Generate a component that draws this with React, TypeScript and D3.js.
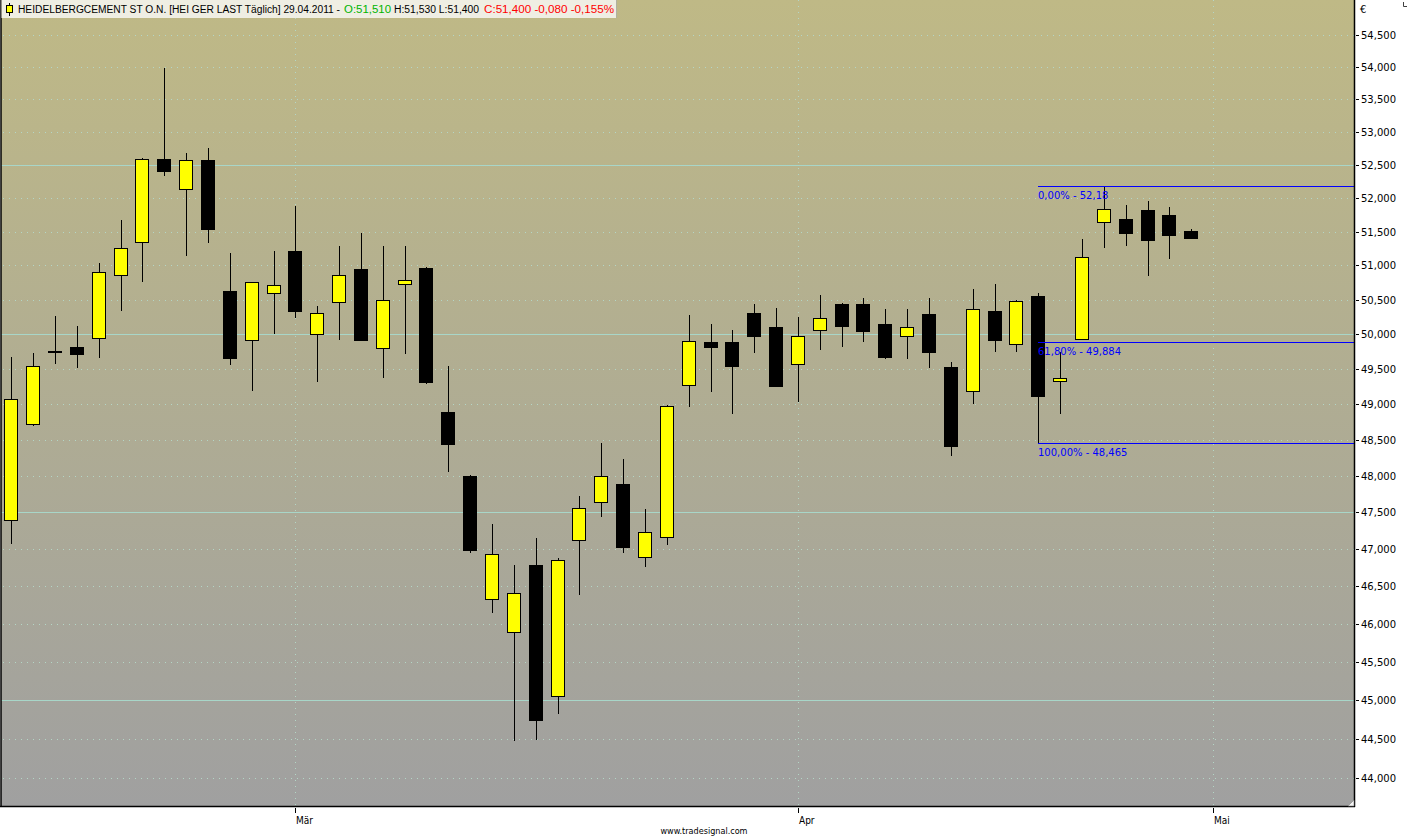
import React from 'react';
import * as d3 from 'd3';

// ---- Data ----
const dates = [
  '2011-02-10','2011-02-11','2011-02-14','2011-02-15','2011-02-16','2011-02-17','2011-02-18',
  '2011-02-21','2011-02-22','2011-02-23','2011-02-24','2011-02-25','2011-02-28',
  '2011-03-01','2011-03-02','2011-03-03','2011-03-04','2011-03-07','2011-03-08','2011-03-09',
  '2011-03-10','2011-03-11','2011-03-14','2011-03-15','2011-03-16','2011-03-17','2011-03-18',
  '2011-03-21','2011-03-22','2011-03-23','2011-03-24','2011-03-25','2011-03-28','2011-03-29',
  '2011-03-30','2011-03-31','2011-04-01','2011-04-04','2011-04-05','2011-04-06','2011-04-07',
  '2011-04-08','2011-04-11','2011-04-12','2011-04-13','2011-04-14','2011-04-15','2011-04-18',
  '2011-04-19','2011-04-20','2011-04-21','2011-04-26','2011-04-27','2011-04-28','2011-04-29',
];
const futureDates = ['2011-05-02'];

const opens = [
  47.40, 48.72, 49.76, 49.81, 49.94, 50.86, 51.34, 52.59, 52.13, 52.57, 50.63, 49.91, 50.59,
  51.21, 50.00, 50.46, 50.95, 49.80, 50.73, 50.96, 48.89, 48.00, 46.33, 45.89, 46.79, 45.06, 47.13,
  47.64, 47.89, 46.90, 47.17, 49.28, 49.89, 49.89, 50.31, 50.10, 49.58, 50.06, 50.44, 50.44, 50.15,
  49.98, 50.29, 49.53, 49.19, 50.33, 49.86, 50.56, 49.33, 49.93, 51.64, 51.68, 51.82, 51.75, 51.51,
];
const highs = [
  49.68, 49.73, 50.26, 50.12, 51.04, 51.67, 52.60, 53.98, 52.68, 52.75, 51.18, 50.76, 51.21,
  51.88, 50.41, 51.29, 51.48, 51.29, 51.29, 50.98, 49.55, 48.01, 47.34, 46.79, 47.15, 46.88, 47.73,
  48.46, 48.24, 47.55, 48.99, 50.28, 50.15, 50.06, 50.44, 50.38, 50.25, 50.57, 50.45, 50.52, 50.36,
  50.36, 50.52, 49.60, 50.66, 50.73, 50.50, 50.59, 49.75, 51.39, 52.18, 51.89, 51.95, 51.86, 51.53,
];
const lows = [
  47.07, 48.70, 49.58, 49.51, 49.66, 50.34, 50.75, 52.33, 51.14, 51.33, 49.56, 49.19, 50.01,
  50.24, 49.32, 49.92, 49.91, 49.38, 49.71, 49.29, 48.05, 46.95, 46.15, 44.48, 44.49, 44.82, 46.38,
  47.44, 46.95, 46.76, 47.06, 48.97, 49.17, 48.86, 49.73, 49.25, 49.04, 49.78, 49.82, 49.89, 49.64,
  49.64, 49.52, 48.28, 49.01, 49.75, 49.75, 48.465, 48.87, 49.92, 51.25, 51.29, 50.85, 51.10, 51.40,
];
const closes = [
  49.07, 49.54, 49.75, 49.71, 50.90, 51.25, 52.59, 52.41, 52.57, 51.53, 49.66, 50.75, 50.71,
  50.34, 50.30, 50.86, 49.92, 50.49, 50.78, 49.32, 48.45, 46.99, 46.93, 46.41, 44.74, 46.85, 47.56,
  48.00, 47.03, 47.24, 48.98, 49.90, 49.81, 49.55, 49.98, 49.26, 49.98, 50.24, 50.12, 50.05, 49.68,
  50.11, 49.75, 48.42, 50.37, 49.91, 50.48, 49.12, 49.38, 51.12, 51.83, 51.48, 51.38, 51.45, 51.40,
];

const priceTicks = [44, 44.5, 45, 45.5, 46, 46.5, 47, 47.5, 48, 48.5, 49, 49.5, 50, 50.5, 51, 51.5, 52, 52.5, 53, 53.5, 54, 54.5];
const majorGrid = [45, 47.5, 50, 52.5];
const monthTickDates = ['2011-03-01', '2011-04-01', '2011-05-02'];
const monthTickLabels = ['Mär', 'Apr', 'Mai'];

const fibStartDate = '2011-04-18';
const fibLabels = ['0,00% - 52,18', '61,80% - 49,884', '100,00% - 48,465'];
const fibValues = [52.18, 49.884, 48.465];

const headerParts = [
  'HEIDELBERGCEMENT ST O.N. [HEI GER LAST Täglich] 29.04.2011 -',
  'O:51,510',
  'H:51,530 L:51,400',
  'C:51,400 -0,080 -0,155%',
];
const headerColors = ['#000000', '#00b400', '#000000', '#ff0000'];

const W = 1408;
const H = 838;
const PLOT_L = 1;
const PLOT_R = 1354;
const PLOT_B = 806;

const deLocale = d3.formatLocale({ decimal: ',', thousands: '.', grouping: [3], currency: ['', '€'] });
const fmt = deLocale.format('.3f');

export default function App() {
  const allDates = [...dates, ...futureDates];
  const x = d3.scalePoint<string>().domain(allDates).range([11.3, 11.3 + 55 * 21.85]);
  const y = d3.scaleLog().domain([45, 52.5]).range([700.3, 164.7]);

  const px = (d: string) => Math.round(x(d) as number);
  const py = (v: number) => Math.round(y(v));

  const uiFont = "'DejaVu Sans', sans-serif";
  const headFont = "'Liberation Sans', Arial, sans-serif";
  const smallFont = "'DejaVu Sans Condensed', 'Liberation Sans Narrow', 'DejaVu Sans', sans-serif";

  const minorGrid = priceTicks.filter((t) => !majorGrid.includes(t));

  // header segment placement (x start, width) as in the reference
  const headerX = [18, 344, 394, 484];
  const headerW = [322, 47, 85, 130];

  return (
    <svg width={W} height={H} style={{ position: 'absolute', left: 0, top: 0, background: '#ffffff' }}>
      <defs>
        <linearGradient id="bg" x1="0" y1="0" x2="0" y2="1">
          <stop offset="0%" stopColor="#bfb986" />
          <stop offset="100%" stopColor="#a0a0a0" />
        </linearGradient>
      </defs>
      <rect x={0} y={0} width={W} height={H} fill="#ffffff" />
      <rect x={PLOT_L} y={0} width={PLOT_R - PLOT_L} height={PLOT_B} fill="url(#bg)" />

      {/* horizontal grid */}
      {minorGrid.map((t) => (
        <line key={'mg' + t} x1={PLOT_L + 2} x2={PLOT_R} y1={py(t) + 0.5} y2={py(t) + 0.5}
          stroke="#b4d6c6" strokeWidth={1} strokeDasharray="1 5" />
      ))}
      {majorGrid.map((t) => (
        <line key={'MG' + t} x1={PLOT_L} x2={PLOT_R} y1={py(t) + 0.5} y2={py(t) + 0.5}
          stroke="#a8d6c8" strokeWidth={1} />
      ))}
      {/* vertical month grid */}
      {monthTickDates.map((d) => (
        <line key={'vg' + d} x1={px(d) + 0.5} x2={px(d) + 0.5} y1={0} y2={PLOT_B}
          stroke="#b4d6c6" strokeWidth={1} strokeDasharray="1 5" />
      ))}

      {/* candles */}
      {dates.map((d, i) => {
        const cx = px(d);
        const o = opens[i];
        const c = closes[i];
        const up = c >= o;
        const top = py(Math.max(o, c));
        const bot = py(Math.min(o, c));
        const h = Math.max(1, bot - top);
        return (
          <g key={d}>
            <line x1={cx + 0.5} x2={cx + 0.5} y1={py(highs[i])} y2={py(lows[i])} stroke="#000" strokeWidth={1} />
            <rect x={cx - 6.5} y={top + 0.5} width={13} height={h} fill={up ? '#ffff00' : '#000000'} stroke="#000" strokeWidth={1} />
          </g>
        );
      })}

      {/* Fibonacci retracement */}
      {fibValues.map((v, i) => (
        <g key={'fib' + i}>
          <line x1={px(fibStartDate)} x2={PLOT_R} y1={py(v) + 0.5} y2={py(v) + 0.5} stroke="#0000ff" strokeWidth={1} />
          <text x={px(fibStartDate)} y={py(v) + 13} fill="#0000ff" fontSize={10} fontFamily={uiFont}>
            {fibLabels[i]}
          </text>
        </g>
      ))}

      {/* plot borders */}
      <line x1={1} x2={1} y1={0} y2={PLOT_B} stroke="#000" strokeWidth={1.5} />
      <line x1={PLOT_R + 0.5} x2={PLOT_R + 0.5} y1={0} y2={PLOT_B + 1} stroke="#000" strokeWidth={1.5} />
      <line x1={0} x2={PLOT_R + 1} y1={PLOT_B + 0.5} y2={PLOT_B + 0.5} stroke="#000" strokeWidth={1.5} />
      {/* resize corner */}
      <path d={`M${PLOT_R - 6},${PLOT_B} L${PLOT_R},${PLOT_B - 6} L${PLOT_R},${PLOT_B} Z`} fill="#f4f4f4" stroke="#808080" strokeWidth={0.6} />

      {/* right axis */}
      <text x={1360} y={13} fontSize={10} fontFamily={uiFont} fill="#000">€</text>
      <path d="M1403.5,2 V6.5 H1407" stroke="#404040" strokeWidth={1} fill="none" />
      {priceTicks.map((t) => (
        <g key={'pt' + t}>
          <line x1={PLOT_R + 2} x2={1359} y1={py(t) + 0.5} y2={py(t) + 0.5} stroke="#000" strokeWidth={1} />
          <text x={1361} y={py(t) + 4} fontSize={10} fontFamily={uiFont} fill="#000">{fmt(t)}</text>
        </g>
      ))}

      {/* bottom axis */}
      {monthTickDates.map((d, i) => (
        <g key={'mt' + d}>
          <line x1={px(d) + 0.5} x2={px(d) + 0.5} y1={PLOT_B + 2} y2={PLOT_B + 7} stroke="#000" strokeWidth={1} />
          <text x={px(d) + 1} y={824} fontSize={10} fontFamily={smallFont} fill="#000">{monthTickLabels[i]}</text>
        </g>
      ))}
      <text x={704} y={834} textAnchor="middle" fontSize={9} fontFamily={smallFont} fill="#000">www.tradesignal.com</text>

      {/* header */}
      <rect x={1.5} y={0} width={615} height={18} fill="#efeee3" />
      <line x1={616.5} x2={616.5} y1={0} y2={18} stroke="#b0b0a0" strokeWidth={1} />
      <line x1={9.5} x2={9.5} y1={3} y2={16} stroke="#000" strokeWidth={1} />
      <rect x={6.5} y={5.5} width={6} height={7} fill="#ffff00" stroke="#000" strokeWidth={1} />
      {headerParts.map((t, i) => (
        <text key={'h' + i} x={headerX[i]} y={13} fontSize={10} fontFamily={headFont} fill={headerColors[i]}
          textLength={headerW[i]} lengthAdjust="spacingAndGlyphs">
          {t}
        </text>
      ))}
    </svg>
  );
}
